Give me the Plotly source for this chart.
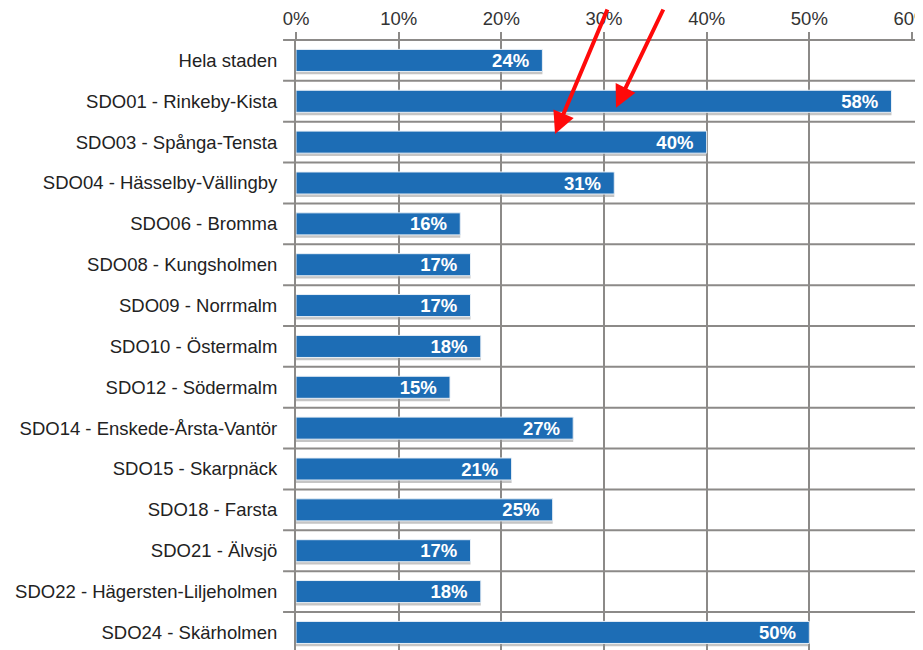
import plotly.graph_objects as go

categories = [
    "Hela staden",
    "SDO01 - Rinkeby-Kista",
    "SDO03 - Spånga-Tensta",
    "SDO04 - Hässelby-Vällingby",
    "SDO06 - Bromma",
    "SDO08 - Kungsholmen",
    "SDO09 - Norrmalm",
    "SDO10 - Östermalm",
    "SDO12 - Södermalm",
    "SDO14 - Enskede-Årsta-Vantör",
    "SDO15 - Skarpnäck",
    "SDO18 - Farsta",
    "SDO21 - Älvsjö",
    "SDO22 - Hägersten-Liljeholmen",
    "SDO24 - Skärholmen",
]
values = [0.24, 0.58, 0.40, 0.31, 0.16, 0.17, 0.17, 0.18, 0.15, 0.27, 0.21, 0.25, 0.17, 0.18, 0.50]
labels = ["24%", "58%", "40%", "31%", "16%", "17%", "17%", "18%", "15%", "27%", "21%", "25%", "17%", "18%", "50%"]
x_ticks = [0, 0.1, 0.2, 0.3, 0.4, 0.5, 0.6]
x_tick_text = ["0%", "10%", "20%", "30%", "40%", "50%", "60%"]

GRID = "#8c8a88"
BAR = "#1d6db5"
FONT = "Liberation Sans, Arial, sans-serif"

idx = list(range(len(categories)))
boundaries = [i - 0.5 for i in range(len(categories) + 1)]
Y_RANGE = [14.43, -0.5]  # bottom, top (first category on top)

fig = go.Figure()
# soft shadow under each bar
fig.add_trace(go.Bar(
    x=values, y=idx, orientation="h",
    width=0.54, offset=-0.2,
    marker=dict(color="rgba(150,150,150,0.55)", line=dict(width=0)),
    hoverinfo="skip",
))
fig.add_trace(go.Bar(
    x=values, y=idx, orientation="h",
    width=0.54,
    marker=dict(color=BAR, line=dict(color="#e9f0f7", width=1)),
    text=[l + "\u00a0\u00a0" for l in labels], textposition="inside", insidetextanchor="end",
    textfont=dict(family=FONT, size=18.5, color="white", weight="bold"),
    constraintext="none",
    hoverinfo="skip",
))

# horizontal grid lines between category rows, placed in paper space
# (converted from the category boundaries through the y range)
span = Y_RANGE[0] - Y_RANGE[1]
for b in boundaries:
    yp = (Y_RANGE[0] - b) / span
    if 0 <= yp <= 1:
        fig.add_shape(
            type="line", xref="paper", yref="paper",
            x0=-0.021, x1=1.03, y0=yp, y1=yp,
            line=dict(color=GRID, width=2), layer="above",
        )

# page body has an 8px default margin; margins compensate so the plot sits where the reference does
fig.update_layout(
    width=923, height=650,
    margin=dict(l=288, r=19, t=32, b=8),
    paper_bgcolor="white", plot_bgcolor="white",
    showlegend=False,
    barmode="overlay",
    font=dict(family=FONT, size=18.5, color="#222"),
)
fig.update_xaxes(
    side="top", range=[0, 0.6], automargin=False,
    tickvals=x_ticks, ticktext=x_tick_text,
    showgrid=True, gridcolor=GRID, gridwidth=2,
    ticks="outside", ticklen=7, tickcolor=GRID, tickwidth=2,
    showline=False, zeroline=False,
    tickfont=dict(family=FONT, size=18.5, color="#333"),
)
fig.update_yaxes(
    range=Y_RANGE, automargin=False,
    tickvals=idx, ticktext=categories,
    ticks="outside", ticklen=13, tickcolor="rgba(0,0,0,0)",
    showgrid=False, zeroline=False,
    showline=True, linecolor=GRID, linewidth=2,
    tickfont=dict(family=FONT, size=18.5, color="#222"),
)

# red arrows
for hx, hy, ax, ay in [(0.4205, 0.846, 53, -140), (0.5195, 0.889, 48, -113)]:
    fig.add_annotation(
        xref="paper", yref="paper", x=hx, y=hy, ax=ax, ay=ay,
        text="", showarrow=True, arrowhead=2, arrowsize=1.1, arrowwidth=4,
        arrowcolor="#ff0a0a",
    )

fig.write_html("out.html")
